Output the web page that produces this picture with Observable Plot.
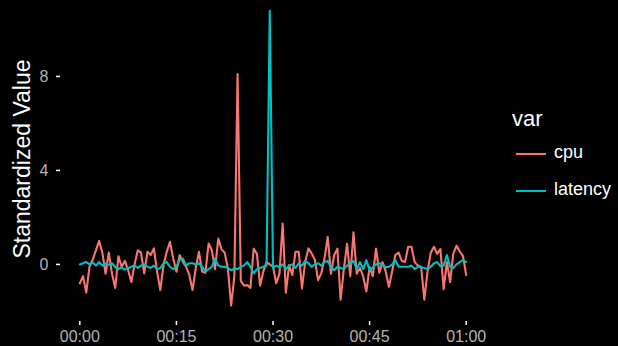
<!DOCTYPE html>
<html>
<head>
<meta charset="utf-8">
<script src="https://cdn.jsdelivr.net/npm/d3@7"></script>
<script src="https://cdn.jsdelivr.net/npm/@observablehq/plot@0.6"></script>
<style>
  html, body { margin: 0; padding: 0; background: #000; }
  #wrap { position: relative; width: 618px; height: 346px; background: #000; font-family: "Liberation Sans", Arial, Helvetica, sans-serif; }
  #legend { position: absolute; left: 498px; top: 104px; color: #fff; }
  #legend .title { font-size: 22px; line-height: 30px; margin-left: 14px; }
  #legend .item { position: relative; height: 37px; top: 2px; }
  #legend .sw { position: absolute; left: 18px; top: 17px; width: 30px; height: 2px; }
  #legend .lab { position: absolute; left: 56px; top: 6px; font-size: 18px; }
</style>
</head>
<body>
<div id="wrap"><div id="chart"></div><div id="legend"></div></div>
<script>
// sample times: every 30 s from 00:00 to 01:00 (121 samples)
const seriesNames = ["cpu", "latency"];
const seriesColors = ["#F8766D", "#00BFC4"];
const xTicks = [0, 15, 30, 45, 60];
const xTickLabels = ["00:00", "00:15", "00:30", "00:45", "01:00"];
const yTicks = [0, 4, 8];

const cpu = [
  -0.8, -0.5, -1.2, -0.1, 0.2, 0.6, 1.0, 0.5, -0.4, 0.5,
  -0.4, -1.0, 0.35, -0.1, 0.15, -0.25, -0.75, 0.0, 0.6, 0.5,
  -0.38, 0.54, 0.4, 0.68, -0.31, -1.09, -0.03, 0.54, 0.96, 0.26,
  -0.31, 0.4, 0.11, -0.1, -0.45, -1.09, -0.17, 0.54, -0.31, -0.35,
  0.89, 0.6, -0.2, 1.1, 0.65, 0.5, -0.2, -1.75, -0.5, 8.1,
  -0.7, -0.9, -0.88, -1.0, 0.68, 0.45, -0.9, -0.3, 0.1, 0.0,
  -0.1, -0.8, -0.4, 1.74, -1.2, -0.03, -0.45, 0.54, 0.54, -1.02,
  0.11, 0.68, 0.47, 0.2, -0.67, -0.38, 0.26, 1.17, -0.4, 0.4,
  0.67, -1.5, -0.2, 0.88, -0.5, 1.37, -0.4, -0.15, -0.5, -1.15,
  -0.1, -0.5, 0.68, -0.35, 0.1, -0.3, -0.95, -0.3, 0.4, 0.5,
  0.15, 0.1, 0.75, 0.75, 0.1, -0.05, -0.1, -1.5, -0.3, 0.5,
  0.75, 0.45, 0.65, -1.05, 0.1, -0.75, 0.45, 0.8, 0.55, 0.35,
  -0.45
];
const latency = [
  0.0, 0.05, 0.1, 0.0, 0.08, -0.05, 0.1, -0.05, 0.05, -0.02,
  0.05, -0.12, -0.2, -0.12, -0.22, -0.15, -0.1, -0.05, -0.15, -0.05,
  0.0, -0.1, -0.15, -0.05, -0.2, -0.15, 0.05, 0.1, -0.1, -0.2,
  -0.1, 0.2, 0.25, -0.05, 0.05, 0.05, 0.0, 0.05, -0.1, -0.3,
  -0.2, -0.1, 0.25, -0.05, -0.1, -0.1, -0.15, -0.25, -0.18, -0.2,
  -0.1, -0.05, 0.1, -0.1, -0.38, -0.2, -0.15, -0.1, -0.05, 10.8,
  -0.15, -0.05, -0.12, 0.0, -0.2, -0.05, 0.0, -0.15, 0.05, -0.05,
  0.15, 0.05, -0.1, 0.0, 0.05, -0.05, 0.1, 0.15, -0.1, -0.25,
  -0.1, -0.15, -0.2, -0.05, 0.05, 0.15, -0.2, 0.1, -0.2, 0.18,
  -0.25, -0.12, 0.0, 0.05, 0.0, -0.12, -0.1, 0.0, 0.18, -0.1,
  -0.1, -0.1, -0.1, -0.05, -0.2, -0.1, -0.12, -0.15, -0.2, -0.1,
  0.05, 0.1, -0.08, -0.05, 0.4, -0.1, -0.15, 0.0, 0.1, 0.18,
  0.1
];

const rows = [];
const seriesValues = [cpu, latency];
seriesNames.forEach((name, s) => {
  seriesValues[s].forEach((v, i) => rows.push({minute: i * 0.5, value: v, var: name}));
});

const font = '"Liberation Sans", Arial, Helvetica, sans-serif';
const chart = Plot.plot({
  width: 618,
  height: 346,
  marginLeft: 60,
  marginRight: 133,
  marginTop: 0,
  marginBottom: 25,
  style: {background: "#000", fontFamily: font, overflow: "visible"},
  x: {domain: [-3, 63]},
  y: {domain: [-2.43, 11.43], range: [321, -4.6]},
  color: {domain: seriesNames, range: seriesColors},
  marks: [
    Plot.line(rows, {x: "minute", y: "value", stroke: "var", z: "var", strokeWidth: 2.1, strokeLinejoin: "round"}),
    Plot.axisX({ticks: xTicks, tickFormat: d => xTickLabels[xTicks.indexOf(d)], tickSize: 4, tickPadding: 5,
      stroke: "#ffffff", strokeWidth: 1.5, fill: "#b3b3b3", fontSize: 16, label: null}),
    Plot.axisY({ticks: yTicks, tickSize: 4, tickPadding: 8, stroke: "#ffffff", strokeWidth: 1.5, fill: "#b3b3b3", fontSize: 16,
      label: null}),
    Plot.text(["Standardized Value"], {frameAnchor: "left", textAnchor: "middle", dx: -38, dy: -2, rotate: -90,
      fill: "#fff", fontSize: 23, text: d => d})
  ]
});
document.getElementById("chart").appendChild(chart);

const legend = document.getElementById("legend");
legend.innerHTML = '<div class="title">var</div>' + seriesNames.map((n, i) =>
  `<div class="item"><div class="sw" style="background:${seriesColors[i]}"></div><div class="lab">${n}</div></div>`).join("");
</script>
</body>
</html>
